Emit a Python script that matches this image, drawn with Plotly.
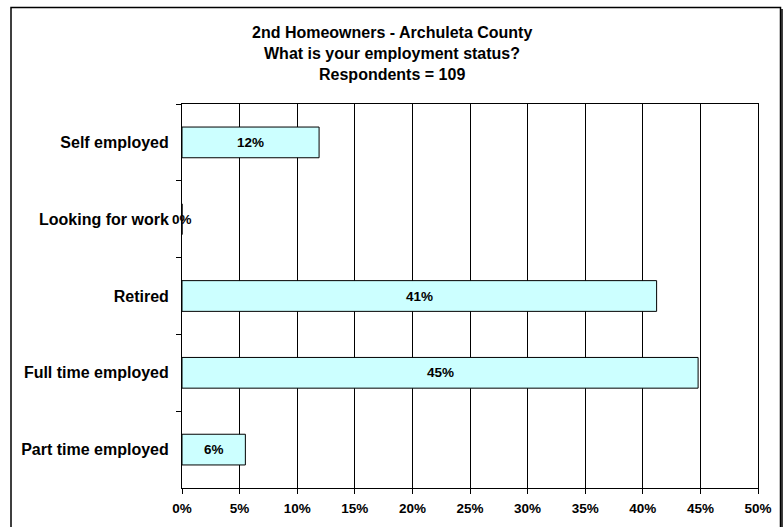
import plotly.graph_objects as go

categories = ["Self employed", "Looking for work", "Retired", "Full time employed", "Part time employed"]
values = [11.9, 0.0, 41.2, 44.8, 5.5]
value_labels = ["12%", "0%", "41%", "45%", "6%"]
tick_vals = [0, 5, 10, 15, 20, 25, 30, 35, 40, 45, 50]
tick_text = ["0%", "5%", "10%", "15%", "20%", "25%", "30%", "35%", "40%", "45%", "50%"]
title_lines = ["2nd Homeowners - Archuleta County", "What is your employment status?", "Respondents = 109"]

FONT = "Liberation Sans, Arial, sans-serif"
W, H = 784, 527
ML, MR, MT, MB = 182, 26, 104, 39
pw = W - ML - MR
ph = H - MT - MB

fig = go.Figure()
fig.add_trace(go.Bar(
    x=values, y=categories, orientation="h",
    marker=dict(color="#CCFFFF", line=dict(color="black", width=1)),
    width=0.4, hoverinfo="skip",
))

for v, c, t in zip(values, categories, value_labels):
    fig.add_annotation(x=v / 2, y=c, text=t, showarrow=False,
                       font=dict(family=FONT, size=13.5, color="black", weight="bold"),
                       xanchor="center", yanchor="middle")

# title lines
for i, line in enumerate(title_lines):
    ypx = 32 + 21 * i
    fig.add_annotation(xref="paper", yref="paper", x=(W / 2 - ML) / pw, y=(H - MB - ypx) / ph,
                       text=line, showarrow=False, xanchor="center", yanchor="middle",
                       font=dict(family=FONT, size=16, color="black", weight="bold"))

# outer chart border (with slightly heavier right edge)
fig.add_shape(type="rect", xref="paper", yref="paper",
              x0=(11 - ML) / pw, x1=(780.5 - ML) / pw,
              y0=(H - MB - 540) / ph, y1=(H - MB - 7.5) / ph,
              line=dict(color="black", width=1.5), fillcolor="rgba(0,0,0,0)", layer="below")
fig.add_shape(type="line", xref="paper", yref="paper",
              x0=(782 - ML) / pw, x1=(782 - ML) / pw,
              y0=(H - MB - 540) / ph, y1=(H - MB - 9) / ph,
              line=dict(color="black", width=1.5), layer="below")

fig.update_layout(
    width=W, height=H,
    margin=dict(l=ML, r=MR, t=MT, b=MB, autoexpand=False),
    paper_bgcolor="white", plot_bgcolor="white",
    showlegend=False,
    font=dict(family=FONT, size=12, color="black"),
    bargap=0.6,
)
fig.update_xaxes(range=[0, 50], tickvals=tick_vals, ticktext=tick_text, automargin=False,
                 showgrid=True, gridcolor="black", gridwidth=1,
                 showline=True, linecolor="black", linewidth=1, mirror=True,
                 ticks="outside", ticklen=5, tickcolor="black", zeroline=False,
                 ticklabelstandoff=3,
                 tickfont=dict(family=FONT, size=13.5, color="black", weight="bold"))
fig.update_yaxes(categoryorder="array", categoryarray=categories, autorange="reversed",
                 automargin=False,
                 showgrid=False, showline=True, linecolor="black", linewidth=1, mirror=True,
                 ticks="outside", ticklen=5, tickcolor="black", tickson="boundaries",
                 ticklabelstandoff=9,
                 tickfont=dict(family=FONT, size=16, color="black", weight="bold"))

fig.write_html("out.html", config={"displayModeBar": False},
               post_script="document.body.style.margin='0';")
